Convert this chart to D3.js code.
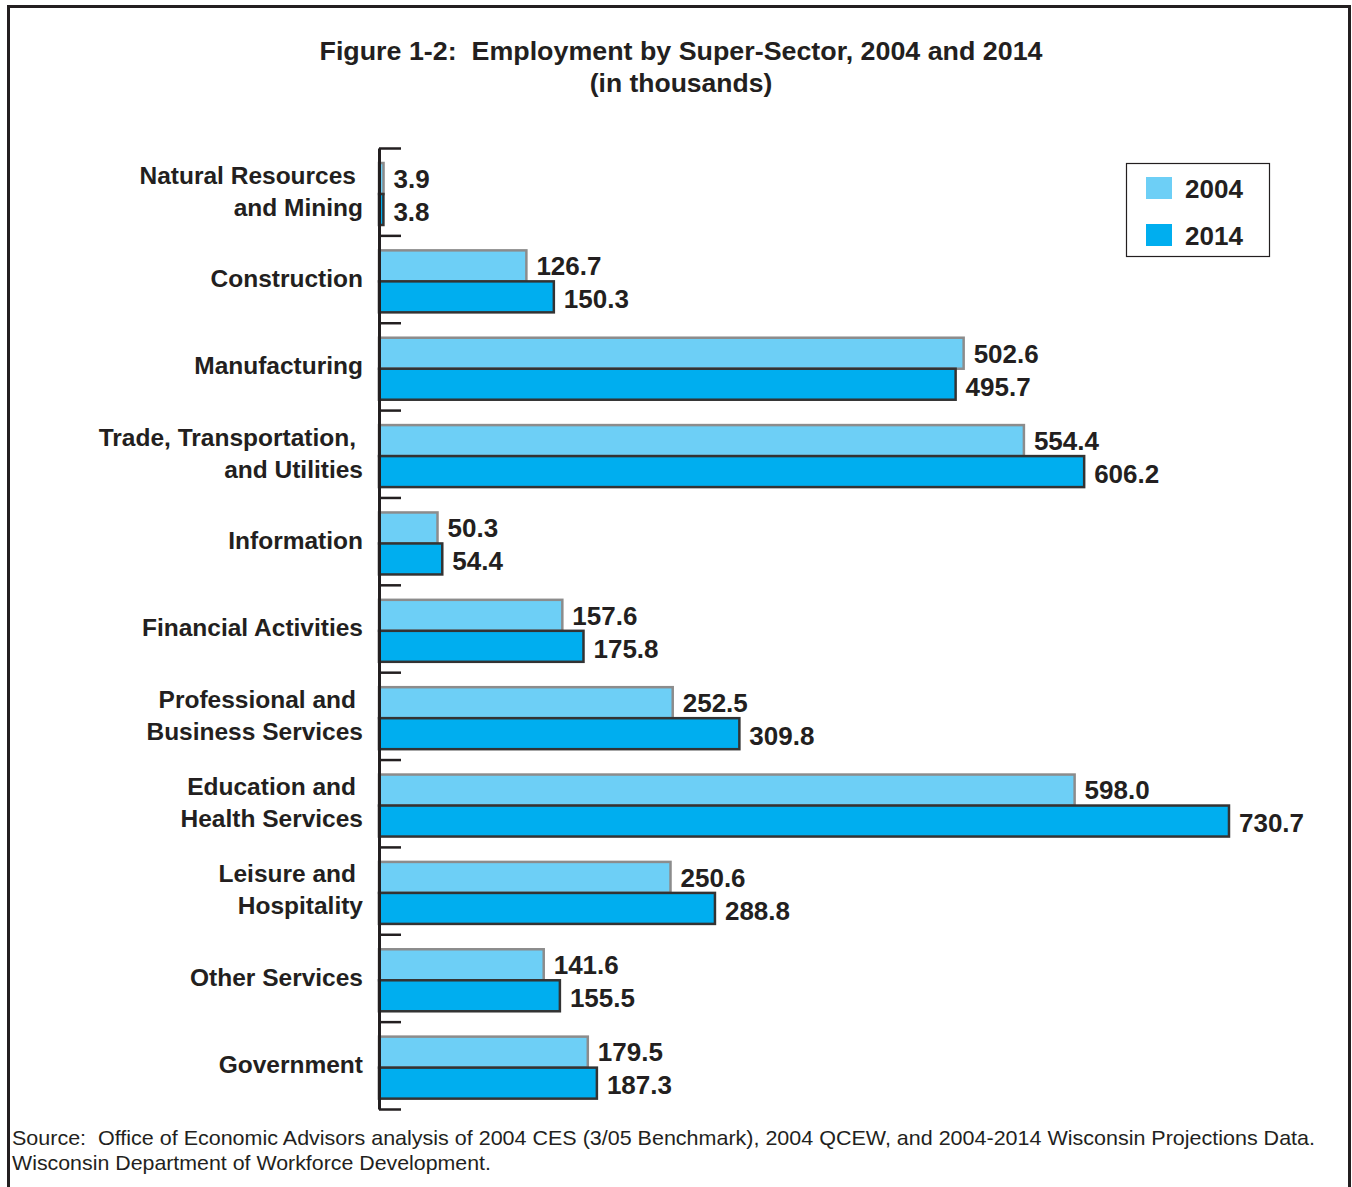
<!DOCTYPE html>
<html>
<head>
<meta charset="utf-8">
<script src="https://cdn.jsdelivr.net/npm/d3@7"></script>
<style>
  html, body { margin: 0; padding: 0; background: #fff; }
  svg { display: block; }
  svg text { font-family: "Liberation Sans", Arial, Helvetica, sans-serif; white-space: pre; }
</style>
</head>
<body>
<svg id="chart" width="1352" height="1187"></svg>
<script>
// Employment by super-sector (thousands)
const categories = [
  ["Natural Resources", "and Mining"],
  ["Construction"],
  ["Manufacturing"],
  ["Trade, Transportation,", "and Utilities"],
  ["Information"],
  ["Financial Activities"],
  ["Professional and", "Business Services"],
  ["Education and", "Health Services"],
  ["Leisure and", "Hospitality"],
  ["Other Services"],
  ["Government"]
];
const values2004 = [3.9, 126.7, 502.6, 554.4, 50.3, 157.6, 252.5, 598.0, 250.6, 141.6, 179.5];
const values2014 = [3.8, 150.3, 495.7, 606.2, 54.4, 175.8, 309.8, 730.7, 288.8, 155.5, 187.3];
const seriesNames = ["2004", "2014"];
const seriesFill = ["#6dcff6", "#00aeef"];
const seriesStroke = ["#8c8c8c", "#333333"];
const titleLines = ["Figure 1-2:  Employment by Super-Sector, 2004 and 2014", "(in thousands)"];
const sourceLines = [
  "Source:  Office of Economic Advisors analysis of 2004 CES (3/05 Benchmark), 2004 QCEW, and 2004-2014 Wisconsin Projections Data.",
  "Wisconsin Department of Workforce Development."
];

const svg = d3.select("#chart");
const ink = "#231f20";

// outer frame
svg.append("rect")
  .attr("x", 8.5).attr("y", 6.5).attr("width", 1341).attr("height", 1200)
  .attr("fill", "none").attr("stroke", ink).attr("stroke-width", 3);

// title
const title = svg.append("text")
  .attr("text-anchor", "middle").attr("font-weight", "bold")
  .attr("font-size", 26.5).attr("fill", ink);
title.append("tspan").attr("x", 681).attr("y", 60)
  .attr("textLength", 723).attr("lengthAdjust", "spacingAndGlyphs").text(titleLines[0]);
title.append("tspan").attr("x", 681).attr("y", 92).text(titleLines[1]);

// scales
const x = d3.scaleLinear().domain([0, 800]).range([379, 1309.6]);
const y = d3.scaleBand().domain(d3.range(categories.length)).range([148, 1109]).paddingInner(0).paddingOuter(0);
const ySub = d3.scaleBand().domain(seriesNames).range([15, 77]);

const data = categories.map((c, i) => ({
  idx: i, label: c, vals: [values2004[i], values2014[i]]
}));

const groups = svg.append("g").selectAll("g.cat").data(data).join("g")
  .attr("class", "cat")
  .attr("transform", d => `translate(0,${y(d.idx)})`);

// bars
groups.selectAll("rect.bar").data(d => d.vals.map((v, s) => ({ v, s })))
  .join("rect").attr("class", "bar")
  .attr("x", x(0))
  .attr("y", d => ySub(seriesNames[d.s]))
  .attr("width", d => x(d.v) - x(0))
  .attr("height", ySub.bandwidth())
  .attr("fill", d => seriesFill[d.s])
  .attr("stroke", d => seriesStroke[d.s])
  .attr("stroke-width", 2.5);

// value labels
groups.selectAll("text.val").data(d => d.vals.map((v, s) => ({ v, s })))
  .join("text").attr("class", "val")
  .attr("x", d => x(d.v) + 10)
  .attr("y", d => ySub(seriesNames[d.s]) + ySub.bandwidth() / 2 + d.s * 2)
  .attr("dy", "0.36em")
  .attr("font-size", 26).attr("font-weight", "bold").attr("fill", ink)
  .text(d => d.v.toFixed(1));

// category labels
groups.each(function(d) {
  const g = d3.select(this);
  const mid = y.bandwidth() / 2 - 1;
  const n = d.label.length;
  const t = g.append("text")
    .attr("text-anchor", "end").attr("font-size", 24.5).attr("font-weight", "bold").attr("fill", ink);
  d.label.forEach((line, k) => {
    t.append("tspan")
      .attr("x", n > 1 && k === 0 ? 356 : 363)
      .attr("y", mid + (k - (n - 1) / 2) * 32)
      .attr("dy", "0.36em")
      .text(line);
  });
});

// axis with tick marks at band boundaries
const axisG = svg.append("g").attr("transform", `translate(${x(0)},0)`);
const tickYs = d3.range(categories.length + 1).map(i => 148 + i * y.step());
const axisScale = d3.scaleLinear().domain([148, 1109]).range([148, 1109]);
axisG.call(d3.axisRight(axisScale).tickValues(tickYs).tickSize(22).tickSizeOuter(0).tickFormat(""));
axisG.select(".domain").attr("stroke", ink).attr("stroke-width", 3);
axisG.selectAll(".tick line").attr("stroke", ink).attr("stroke-width", 2.5);

// legend
const legend = svg.append("g");
legend.append("rect").attr("x", 1126.5).attr("y", 163.5).attr("width", 143).attr("height", 93)
  .attr("fill", "#fff").attr("stroke", ink).attr("stroke-width", 1.2);
seriesNames.forEach((s, i) => {
  legend.append("rect").attr("x", 1146).attr("y", 177 + i * 47).attr("width", 26).attr("height", 22)
    .attr("fill", seriesFill[i]);
  legend.append("text")
    .attr("x", 1185).attr("y", 198 + i * 47)
    .attr("font-size", 26).attr("font-weight", "bold").attr("fill", ink)
    .text(s);
});

// source note
const src = svg.append("text").attr("font-size", 21).attr("fill", ink);
src.append("tspan").attr("x", 12).attr("y", 1145)
  .attr("textLength", 1303).attr("lengthAdjust", "spacingAndGlyphs").text(sourceLines[0]);
src.append("tspan").attr("x", 12).attr("y", 1170)
  .attr("textLength", 479).attr("lengthAdjust", "spacingAndGlyphs").text(sourceLines[1]);
</script>
</body>
</html>
